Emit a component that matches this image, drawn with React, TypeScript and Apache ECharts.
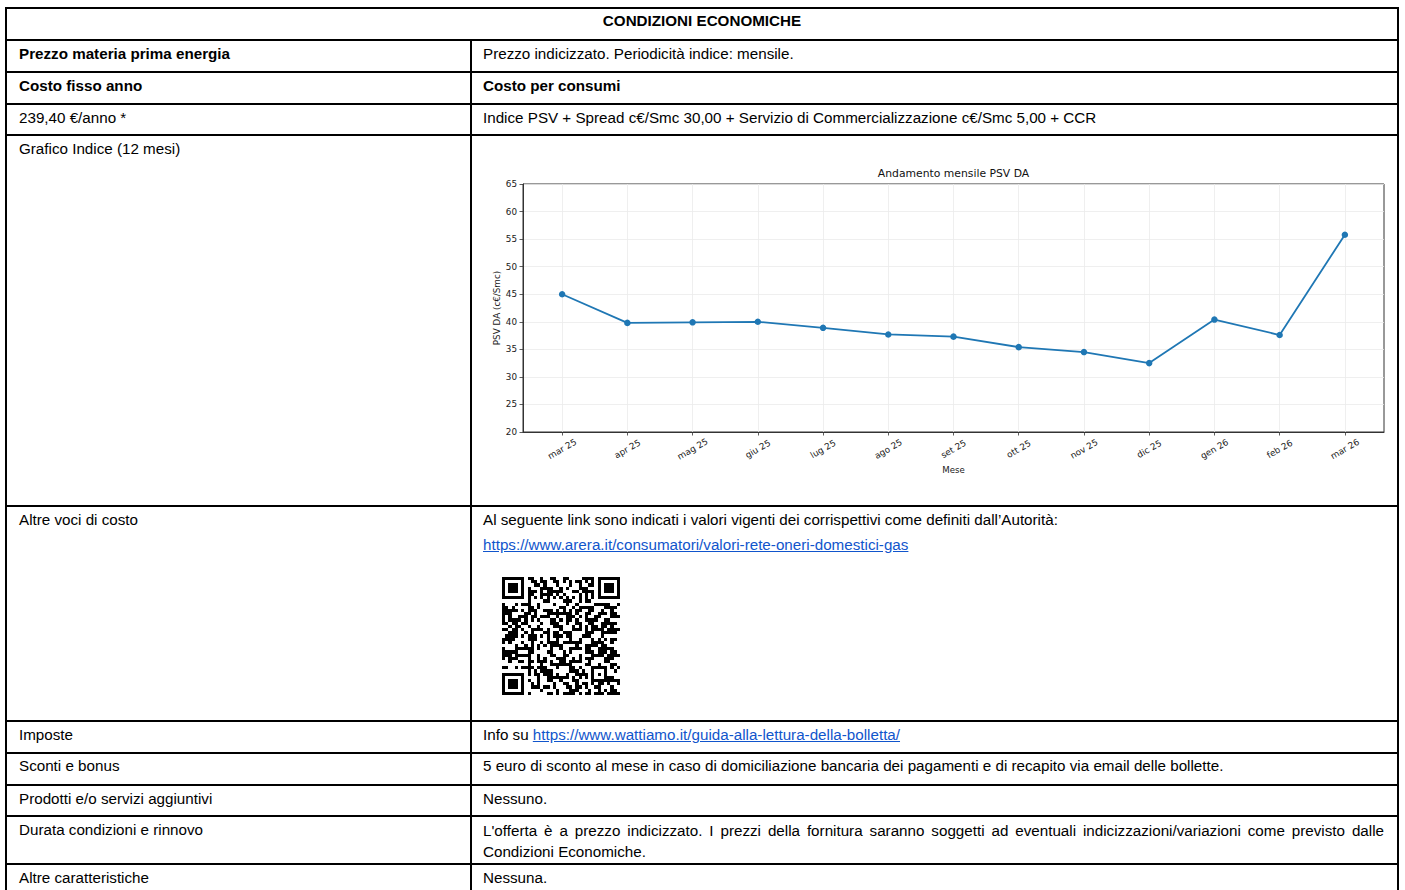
import React, { useEffect, useRef } from "react";
import * as echarts from "echarts";

// ---------- chart data ----------
const months = ["mar 25", "apr 25", "mag 25", "giu 25", "lug 25", "ago 25", "set 25", "ott 25", "nov 25", "dic 25", "gen 26", "feb 26", "mar 26"];
const psvValues = [45.0, 39.8, 39.9, 40.0, 38.9, 37.7, 37.3, 35.4, 34.5, 32.5, 40.4, 37.6, 55.8];
const yMin = 20;
const yMax = 65;
const yStep = 5;
const chartTitle = "Andamento mensile PSV DA";
const yAxisName = "PSV DA (c€/Smc)";
const xAxisName = "Mese";

// ---------- table texts ----------
const headerText = "CONDIZIONI ECONOMICHE";
const leftCol = [
  "Prezzo materia prima energia",
  "Costo fisso anno",
  "239,40 €/anno *",
  "Grafico Indice (12 mesi)",
  "Altre voci di costo",
  "Imposte",
  "Sconti e bonus",
  "Prodotti e/o servizi aggiuntivi",
  "Durata condizioni e rinnovo",
  "Altre caratteristiche",
];
const leftBold = [true, true, false, false, false, false, false, false, false, false];
const rightCol = [
  "Prezzo indicizzato. Periodicità indice: mensile.",
  "Costo per consumi",
  "Indice PSV + Spread c€/Smc 30,00 + Servizio di Commercializzazione c€/Smc 5,00 + CCR",
  "",
  "Al seguente link sono indicati i valori vigenti dei corrispettivi come definiti dall’Autorità:",
  "Info su ",
  "5 euro di sconto al mese in caso di domiciliazione bancaria dei pagamenti e di recapito via email delle bollette.",
  "Nessuno.",
  "L'offerta è a prezzo indicizzato. I prezzi della fornitura saranno soggetti ad eventuali indicizzazioni/variazioni come previsto dalle Condizioni Economiche.",
  "Nessuna.",
];
const rightBold = [false, true, false, false, false, false, false, false, false, false];
const areraLink = "https://www.arera.it/consumatori/valori-rete-oneri-domestici-gas";
const wattiamoLink = "https://www.wattiamo.it/guida-alla-lettura-della-bolletta/";

// ---------- QR encoder (byte mode, version 5, ECC M) ----------
function buildQr(text: string): boolean[][] {
  const version = 5;
  const size = version * 4 + 17;
  const dataCodewords = 86;
  const eccPerBlock = 24;
  const numBlocks = 2;
  const mul = (x: number, y: number) => {
    let z = 0;
    for (let i = 7; i >= 0; i--) {
      z = (z << 1) ^ ((z >>> 7) * 0x11d);
      z ^= ((y >>> i) & 1) * x;
    }
    return z & 0xff;
  };
  const divisor = (deg: number) => {
    const r: number[] = [];
    for (let i = 0; i < deg - 1; i++) r.push(0);
    r.push(1);
    let root = 1;
    for (let i = 0; i < deg; i++) {
      for (let j = 0; j < r.length; j++) {
        r[j] = mul(r[j], root);
        if (j + 1 < r.length) r[j] ^= r[j + 1];
      }
      root = mul(root, 2);
    }
    return r;
  };
  const remainder = (data: number[], div: number[]) => {
    const r = div.map(() => 0);
    for (const b of data) {
      const f = b ^ (r.shift() as number);
      r.push(0);
      div.forEach((c, i) => { r[i] ^= mul(c, f); });
    }
    return r;
  };
  const bits: number[] = [];
  const app = (v: number, n: number) => { for (let i = n - 1; i >= 0; i--) bits.push((v >>> i) & 1); };
  const bytes: number[] = [];
  for (let i = 0; i < text.length; i++) bytes.push(text.charCodeAt(i) & 0xff);
  app(4, 4);
  app(bytes.length, 8);
  bytes.forEach((b) => app(b, 8));
  const cap = dataCodewords * 8;
  app(0, Math.min(4, cap - bits.length));
  app(0, (8 - (bits.length % 8)) % 8);
  for (let pad = 0xec; bits.length < cap; pad ^= 0xec ^ 0x11) app(pad, 8);
  const dc: number[] = [];
  for (let i = 0; i < bits.length; i += 8) {
    let v = 0;
    for (let j = 0; j < 8; j++) v = (v << 1) | bits[i + j];
    dc.push(v);
  }
  const per = dataCodewords / numBlocks;
  const div = divisor(eccPerBlock);
  const blocks: number[][] = [];
  const eccs: number[][] = [];
  for (let b = 0; b < numBlocks; b++) {
    const d = dc.slice(b * per, (b + 1) * per);
    blocks.push(d);
    eccs.push(remainder(d, div));
  }
  const all: number[] = [];
  for (let i = 0; i < per; i++) for (let b = 0; b < numBlocks; b++) all.push(blocks[b][i]);
  for (let i = 0; i < eccPerBlock; i++) for (let b = 0; b < numBlocks; b++) all.push(eccs[b][i]);

  const mod: boolean[][] = [];
  const fn: boolean[][] = [];
  for (let y = 0; y < size; y++) { mod.push(new Array(size).fill(false)); fn.push(new Array(size).fill(false)); }
  const setF = (x: number, y: number, d: boolean) => { mod[y][x] = d; fn[y][x] = true; };
  for (let i = 0; i < size; i++) { setF(6, i, i % 2 === 0); setF(i, 6, i % 2 === 0); }
  const finder = (cx: number, cy: number) => {
    for (let dy = -4; dy <= 4; dy++) for (let dx = -4; dx <= 4; dx++) {
      const d = Math.max(Math.abs(dx), Math.abs(dy));
      const xx = cx + dx, yy = cy + dy;
      if (xx >= 0 && xx < size && yy >= 0 && yy < size) setF(xx, yy, d !== 2 && d !== 4);
    }
  };
  finder(3, 3); finder(size - 4, 3); finder(3, size - 4);
  const align = (cx: number, cy: number) => {
    for (let dy = -2; dy <= 2; dy++) for (let dx = -2; dx <= 2; dx++) setF(cx + dx, cy + dy, Math.max(Math.abs(dx), Math.abs(dy)) !== 1);
  };
  align(30, 30);
  const formatBits = (mask: number) => {
    const data = (0 << 3) | mask;
    let rem = data;
    for (let i = 0; i < 10; i++) rem = (rem << 1) ^ ((rem >>> 9) * 0x537);
    const fb = ((data << 10) | rem) ^ 0x5412;
    const gb = (i: number) => ((fb >>> i) & 1) !== 0;
    for (let i = 0; i <= 5; i++) setF(8, i, gb(i));
    setF(8, 7, gb(6)); setF(8, 8, gb(7)); setF(7, 8, gb(8));
    for (let i = 9; i < 15; i++) setF(14 - i, 8, gb(i));
    for (let i = 0; i < 8; i++) setF(size - 1 - i, 8, gb(i));
    for (let i = 8; i < 15; i++) setF(8, size - 15 + i, gb(i));
    setF(8, size - 8, true);
  };
  formatBits(0);
  let k = 0;
  for (let right = size - 1; right >= 1; right -= 2) {
    if (right === 6) right = 5;
    for (let vert = 0; vert < size; vert++) {
      for (let j = 0; j < 2; j++) {
        const x = right - j;
        const up = ((right + 1) & 2) === 0;
        const y = up ? size - 1 - vert : vert;
        if (!fn[y][x] && k < all.length * 8) {
          mod[y][x] = ((all[k >>> 3] >>> (7 - (k & 7))) & 1) !== 0;
          k++;
        }
      }
    }
  }
  const applyMask = (m: number) => {
    for (let y = 0; y < size; y++) for (let x = 0; x < size; x++) {
      let inv = false;
      switch (m) {
        case 0: inv = (x + y) % 2 === 0; break;
        case 1: inv = y % 2 === 0; break;
        case 2: inv = x % 3 === 0; break;
        case 3: inv = (x + y) % 3 === 0; break;
        case 4: inv = (Math.floor(x / 3) + Math.floor(y / 2)) % 2 === 0; break;
        case 5: inv = ((x * y) % 2) + ((x * y) % 3) === 0; break;
        case 6: inv = (((x * y) % 2) + ((x * y) % 3)) % 2 === 0; break;
        default: inv = (((x + y) % 2) + ((x * y) % 3)) % 2 === 0; break;
      }
      if (!fn[y][x] && inv) mod[y][x] = !mod[y][x];
    }
  };
  const penalty = () => {
    let result = 0;
    const addH = (len: number, rh: number[]) => { if (rh[0] === 0) len += size; rh.pop(); rh.unshift(len); };
    const countP = (rh: number[]) => {
      const n = rh[1];
      const core = n > 0 && rh[2] === n && rh[3] === n * 3 && rh[4] === n && rh[5] === n;
      return (core && rh[0] >= n * 4 && rh[6] >= n ? 1 : 0) + (core && rh[6] >= n * 4 && rh[0] >= n ? 1 : 0);
    };
    const term = (c: boolean, len: number, rh: number[]) => { if (c) { addH(len, rh); len = 0; } len += size; addH(len, rh); return countP(rh); };
    for (let pass = 0; pass < 2; pass++) {
      for (let a = 0; a < size; a++) {
        let rc = false, run = 0;
        const rh = [0, 0, 0, 0, 0, 0, 0];
        for (let b = 0; b < size; b++) {
          const c = pass === 0 ? mod[a][b] : mod[b][a];
          if (c === rc) { run++; if (run === 5) result += 3; else if (run > 5) result++; }
          else { addH(run, rh); if (!rc) result += countP(rh) * 40; rc = c; run = 1; }
        }
        result += term(rc, run, rh) * 40;
      }
    }
    for (let y = 0; y < size - 1; y++) for (let x = 0; x < size - 1; x++) {
      const c = mod[y][x];
      if (c === mod[y][x + 1] && c === mod[y + 1][x] && c === mod[y + 1][x + 1]) result += 3;
    }
    let dark = 0;
    for (let y = 0; y < size; y++) for (let x = 0; x < size; x++) if (mod[y][x]) dark++;
    const total = size * size;
    const kk = Math.ceil(Math.abs(dark * 20 - total * 10) / total) - 1;
    result += kk * 10;
    return result;
  };
  let best = 0, bestP = Infinity;
  for (let m = 0; m < 8; m++) {
    applyMask(m); formatBits(m);
    const p = penalty();
    if (p < bestP) { bestP = p; best = m; }
    applyMask(m);
  }
  applyMask(best); formatBits(best);
  return mod;
}

function qrPath(m: boolean[][]): string {
  let d = "";
  for (let y = 0; y < m.length; y++) for (let x = 0; x < m.length; x++) if (m[y][x]) d += `M${x} ${y}h1v1h-1z`;
  return d;
}

// ---------- layout ----------
const hLines = [8, 40, 72, 104, 135, 506, 721, 752.5, 785, 816, 864];
const FONT = '"Liberation Sans", Arial, Helvetica, sans-serif';
const FS = 15.2;
const CH = { left: 472, top: 137, width: 925, height: 368 };

function Chart() {
  const ref = useRef<HTMLDivElement>(null);
  useEffect(() => {
    if (!ref.current) return;
    const chart = echarts.init(ref.current, null, { renderer: "svg" });
    const idx = months.map((_, i) => i);
    const tickFont = { fontFamily: "DejaVu Sans", fontSize: 8.8, color: "#1a1a1a" };
    chart.setOption({
      animation: false,
      title: {
        text: chartTitle,
        left: 481.5,
        top: 31,
        padding: 0,
        textAlign: "center",
        textStyle: { fontFamily: "DejaVu Sans", fontSize: 10.8, fontWeight: "normal", color: "#111" },
      },
      grid: {
        left: 51, top: 47, width: 861, height: 248,
        show: true, borderColor: "#333", borderWidth: 1, backgroundColor: "transparent",
        containLabel: false, outerBoundsMode: "none",
      },
      xAxis: {
        type: "value",
        min: -0.6,
        max: 12.6,
        name: xAxisName,
        nameLocation: "middle",
        nameGap: 33,
        nameMoveOverlap: false,
        nameTextStyle: { fontFamily: "DejaVu Sans", fontSize: 8.6, color: "#1a1a1a" },
        axisLine: { show: true, onZero: false, lineStyle: { color: "#333", width: 1 } },
        axisTick: { show: true, length: 3.5, customValues: idx, lineStyle: { color: "#333", width: 0.8 } },
        axisLabel: {
          ...tickFont,
          customValues: idx,
          formatter: (v: number) => months[Math.round(v)] ?? "",
          rotate: 30,
          align: "center",
          verticalAlign: "middle",
          margin: 17,
        },
        splitLine: { show: true, lineStyle: { color: "#ebebeb", width: 0.8 } },
      },
      yAxis: {
        type: "value",
        min: yMin,
        max: yMax,
        interval: yStep,
        name: yAxisName,
        nameLocation: "middle",
        nameGap: 22,
        nameMoveOverlap: false,
        nameTextStyle: { fontFamily: "DejaVu Sans", fontSize: 8.8, color: "#1a1a1a" },
        axisLine: { show: true, onZero: false, lineStyle: { color: "#333", width: 1 } },
        axisTick: { show: true, length: 3.5, lineStyle: { color: "#333", width: 0.8 } },
        axisLabel: { ...tickFont, margin: 6 },
        splitLine: { show: true, lineStyle: { color: "#ebebeb", width: 0.8 } },
      },
      series: [
        {
          type: "line",
          data: months.map((_, i) => [i, psvValues[i]]),
          symbol: "circle",
          symbolSize: 6.5,
          showSymbol: true,
          lineStyle: { color: "#1f77b4", width: 1.8 },
          itemStyle: { color: "#1f77b4" },
          z: 5,
        },
      ],
    });
    return () => chart.dispose();
  }, []);
  return <div ref={ref} style={{ position: "absolute", left: CH.left, top: CH.top, width: CH.width, height: CH.height }} />;
}

export default function App() {
  const qr = qrPath(buildQr(areraLink));
  const lineStyle = (s: React.CSSProperties): React.CSSProperties => ({ position: "absolute", background: "#000", ...s });
  const textStyle = (x: number, y: number, bold: boolean): React.CSSProperties => ({
    position: "absolute", left: x, top: y, fontFamily: FONT, fontSize: FS, lineHeight: "18px",
    fontWeight: bold ? "bold" : "normal", color: "#000", whiteSpace: "nowrap",
  });
  const linkStyle: React.CSSProperties = { color: "#1155cc", textDecoration: "underline" };
  return (
    <div style={{ position: "absolute", left: 0, top: 0, width: 1405, height: 890, overflow: "hidden", background: "#fff" }}>
      {hLines.map((y, i) => (
        <div key={"h" + i} style={lineStyle({ left: 5, top: y - 1, width: 1394, height: 2 })} />
      ))}
      <div style={lineStyle({ left: 5, top: 7, width: 2, height: 900 })} />
      <div style={lineStyle({ left: 1397, top: 7, width: 2, height: 900 })} />
      <div style={lineStyle({ left: 470, top: 39, width: 2, height: 900 })} />

      <div style={{ ...textStyle(6, 12, true), width: 1392, textAlign: "center" }}>{headerText}</div>

      {leftCol.map((t, i) => (
        <div key={"l" + i} style={textStyle(19, hLines[i + 1] + 4.5, leftBold[i])}>{t}</div>
      ))}

      {rightCol.map((t, i) => {
        const top = hLines[i + 1] + 4.5;
        if (i === 3) return null;
        if (i === 5) {
          return (
            <div key={"r" + i} style={textStyle(483, top, false)}>
              {t}<span style={linkStyle}>{wattiamoLink}</span>
            </div>
          );
        }
        if (i === 8) {
          return (
            <div key={"r" + i} style={{ ...textStyle(483, top - 1, false), whiteSpace: "normal", width: 901, textAlign: "justify", lineHeight: "21px" }}>{t}</div>
          );
        }
        return <div key={"r" + i} style={textStyle(483, top, rightBold[i])}>{t}</div>;
      })}

      <div style={textStyle(483, 536, false)}><span style={linkStyle}>{areraLink}</span></div>
      <svg style={{ position: "absolute", left: 502, top: 577 }} width={118} height={118} viewBox="0 0 37 37" shapeRendering="crispEdges">
        <path d={qr} fill="#000" />
      </svg>

      <Chart />
    </div>
  );
}
